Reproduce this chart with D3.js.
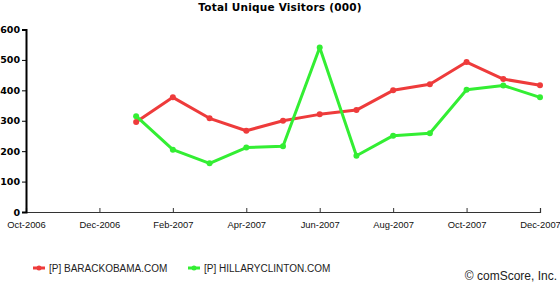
<!DOCTYPE html>
<html>
<head>
<meta charset="utf-8">
<script src="https://cdn.jsdelivr.net/npm/d3@7"></script>
<style>
  body { margin: 0; background: #fff; }
  text { font-family: "Liberation Sans", Arial, sans-serif; }
</style>
</head>
<body>
<svg id="chart" width="560" height="286"></svg>
<script>
  // month labels, Oct-2006 .. Dec-2007
  const months = ["Oct-2006","Nov-2006","Dec-2006","Jan-2007","Feb-2007","Mar-2007","Apr-2007",
    "May-2007","Jun-2007","Jul-2007","Aug-2007","Sep-2007","Oct-2007","Nov-2007","Dec-2007"];
  const tickLabels = ["Oct-2006","Dec-2006","Feb-2007","Apr-2007","Jun-2007","Aug-2007","Oct-2007","Dec-2007"];
  const yTicks = [0, 100, 200, 300, 400, 500, 600];

  // data starts at Jan-2007
  const dataMonths = months.slice(3);
  const obama   = [296, 377, 308, 267, 300, 321, 335, 400, 420, 493, 437, 417];
  const clinton = [315, 205, 160, 212, 216, 541, 185, 251, 259, 402, 416, 377];

  const series = [
    { name: "[P] BARACKOBAMA.COM", values: obama, color: "#ee3b3b" },
    { name: "[P] HILLARYCLINTON.COM", values: clinton, color: "#33ee33" }
  ];

  const svg = d3.select("#chart");
  const x = d3.scalePoint().domain(months).range([26, 540]);
  const y = d3.scaleLinear().domain([0, 600]).range([212, 29.5]);

  // title
  svg.append("text")
    .attr("x", 280).attr("y", 11)
    .attr("text-anchor", "middle")
    .style("font-family", "Verdana, 'DejaVu Sans', sans-serif")
    .style("font-weight", "bold")
    .style("font-size", "10.5px")
    .style("letter-spacing", "0.2px")
    .text("Total Unique Visitors (000)");

  // x axis
  const xAxis = svg.append("g")
    .attr("transform", "translate(0,212)")
    .call(d3.axisBottom(x).tickValues(tickLabels).tickSize(-4).tickPadding(9));
  xAxis.select(".domain").attr("stroke", "#333").attr("stroke-width", 1.2);
  xAxis.selectAll(".tick line").attr("stroke", "#333");
  xAxis.selectAll("text")
    .style("font-size", "9.4px")
    .attr("fill", "#111");

  // y axis
  const yAxis = svg.append("g")
    .attr("transform", "translate(26,0)")
    .call(d3.axisLeft(y).tickValues(yTicks).tickSize(4).tickPadding(2));
  yAxis.select(".domain").attr("stroke", "#000").attr("stroke-width", 2);
  yAxis.selectAll("text")
    .style("font-family", "Verdana, 'DejaVu Sans', sans-serif")
    .style("font-weight", "bold")
    .style("font-size", "9.5px")
    .attr("fill", "#000");

  const line = d3.line()
    .x((d, i) => x(dataMonths[i]))
    .y(d => y(d));

  series.forEach(s => {
    svg.append("path")
      .datum(s.values)
      .attr("d", line)
      .attr("fill", "none")
      .attr("stroke", s.color)
      .attr("stroke-width", 3)
      .attr("stroke-linejoin", "round");
    svg.selectAll(null)
      .data(s.values)
      .enter()
      .append("circle")
      .attr("cx", (d, i) => x(dataMonths[i]))
      .attr("cy", d => y(d))
      .attr("r", 3)
      .attr("fill", s.color);
  });

  // legend
  const legendX = [33, 188];
  series.forEach((s, i) => {
    const g = svg.append("g").attr("transform", `translate(${legendX[i]},268)`);
    g.append("line")
      .attr("x1", 0).attr("x2", 12)
      .attr("stroke", s.color).attr("stroke-width", 3);
    g.append("circle").attr("cx", 6).attr("r", 2.5).attr("fill", s.color);
    g.append("text")
      .attr("x", 16).attr("y", 3.5)
      .style("font-size", "10px")
      .attr("fill", "#222")
      .text(s.name);
  });

  svg.append("text")
    .attr("x", 557).attr("y", 280)
    .attr("text-anchor", "end")
    .style("font-size", "12px")
    .attr("fill", "#222")
    .text("© comScore, Inc.");
</script>
</body>
</html>
